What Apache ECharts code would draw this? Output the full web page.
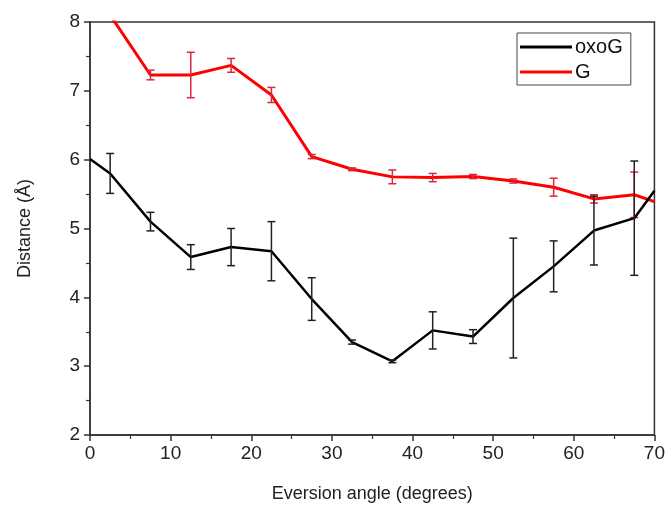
<!DOCTYPE html>
<html>
<head>
<meta charset="utf-8">
<script src="https://cdn.jsdelivr.net/npm/echarts@6/dist/echarts.min.js"></script>
<style>
  html, body { margin: 0; padding: 0; background: #fff; }
  #chart { width: 668px; height: 510px; }
</style>
</head>
<body>
<div id="chart"></div>
<script>
const angles = [0, 2.5, 7.5, 12.5, 17.5, 22.5, 27.5, 32.5, 37.5, 42.5, 47.5, 52.5, 57.5, 62.5, 67.5, 70];
const oxoG = [6.01, 5.80, 5.10, 4.585, 4.73, 4.67, 3.975, 3.35, 3.07, 3.52, 3.43, 3.99, 4.45, 4.97, 5.15, 5.55];
const oxoGErr = [0, 0.29, 0.135, 0.18, 0.27, 0.43, 0.31, 0.03, 0.02, 0.27, 0.1, 0.87, 0.37, 0.5, 0.83, 0];
const G = [8.55, 8.1, 7.23, 7.23, 7.37, 6.94, 6.045, 5.86, 5.75, 5.74, 5.755, 5.69, 5.60, 5.43, 5.49, 5.39];
const GErr = [0, 0, 0.07, 0.33, 0.1, 0.11, 0.03, 0.02, 0.1, 0.06, 0.03, 0.03, 0.13, 0.06, 0.33, 0];

const font = 'Liberation Sans, Arial, sans-serif';

const errData = (vals, errs) =>
  angles.map((a, i) => [a, vals[i] - errs[i], vals[i] + errs[i]]).filter((d, i) => errs[i] > 0);

const errSeries = (vals, errs, color) => ({
  type: 'custom',
  clip: true,
  silent: true,
  data: errData(vals, errs),
  renderItem: (params, api) => {
    const lo = api.coord([api.value(0), api.value(1)]);
    const hi = api.coord([api.value(0), api.value(2)]);
    const w = 4;
    const style = { stroke: color, lineWidth: 1.5 };
    return {
      type: 'group',
      children: [
        { type: 'line', shape: { x1: lo[0], y1: lo[1], x2: hi[0], y2: hi[1] }, style },
        { type: 'line', shape: { x1: lo[0] - w, y1: lo[1], x2: lo[0] + w, y2: lo[1] }, style },
        { type: 'line', shape: { x1: hi[0] - w, y1: hi[1], x2: hi[0] + w, y2: hi[1] }, style }
      ]
    };
  }
});

const chart = echarts.init(document.getElementById('chart'));
chart.setOption({
  animation: false,
  textStyle: { fontFamily: font },
  grid: {
    left: 90, right: 13, top: 22, bottom: 75,
    show: true, borderColor: '#333', borderWidth: 1.5, backgroundColor: 'transparent'
  },
  legend: {
    orient: 'vertical',
    left: 517, top: 33,
    borderColor: '#444', borderWidth: 1,
    padding: [4, 8, 3, 3],
    itemGap: 5,
    itemWidth: 52, itemHeight: 3,
    icon: 'rect',
    textStyle: { fontSize: 20, color: '#111', fontFamily: font, padding: [0, 0, 0, -2] },
    data: ['oxoG', 'G']
  },
  xAxis: {
    type: 'value',
    min: 0, max: 70, interval: 10,
    name: 'Eversion angle (degrees)',
    nameLocation: 'middle',
    nameGap: 50,
    nameTextStyle: { fontSize: 18, color: '#222' },
    axisLine: { lineStyle: { color: '#333', width: 1.5 } },
    axisTick: { length: 6, lineStyle: { color: '#333', width: 1.5 } },
    minorTick: { show: true, splitNumber: 2, length: 4, lineStyle: { color: '#333', width: 1.2 } },
    axisLabel: { fontSize: 19, color: '#222', margin: 9 },
    splitLine: { show: false }
  },
  yAxis: {
    type: 'value',
    min: 2, max: 8, interval: 1,
    name: 'Distance (Å)',
    nameLocation: 'middle',
    nameGap: 56,
    nameTextStyle: { fontSize: 18, color: '#222' },
    axisLine: { show: true, lineStyle: { color: '#333', width: 1.5 } },
    axisTick: { show: true, length: 6, lineStyle: { color: '#333', width: 1.5 } },
    minorTick: { show: true, splitNumber: 2, length: 4, lineStyle: { color: '#333', width: 1.2 } },
    axisLabel: { fontSize: 19, color: '#222', margin: 10 },
    splitLine: { show: false }
  },
  series: [
    {
      name: 'G',
      type: 'line',
      data: angles.map((a, i) => [a, G[i]]),
      showSymbol: false,
      clip: true,
      lineStyle: { color: '#ff0000', width: 3 },
      itemStyle: { color: '#ff0000' },
      z: 2
    },
    Object.assign(errSeries(G, GErr, '#d8283c'), { z: 3 }),
    {
      name: 'oxoG',
      type: 'line',
      data: angles.map((a, i) => [a, oxoG[i]]),
      showSymbol: false,
      clip: true,
      lineStyle: { color: '#000', width: 2.5 },
      itemStyle: { color: '#000' },
      z: 4
    },
    Object.assign(errSeries(oxoG, oxoGErr, '#222'), { z: 5 })
  ]
});
</script>
</body>
</html>
